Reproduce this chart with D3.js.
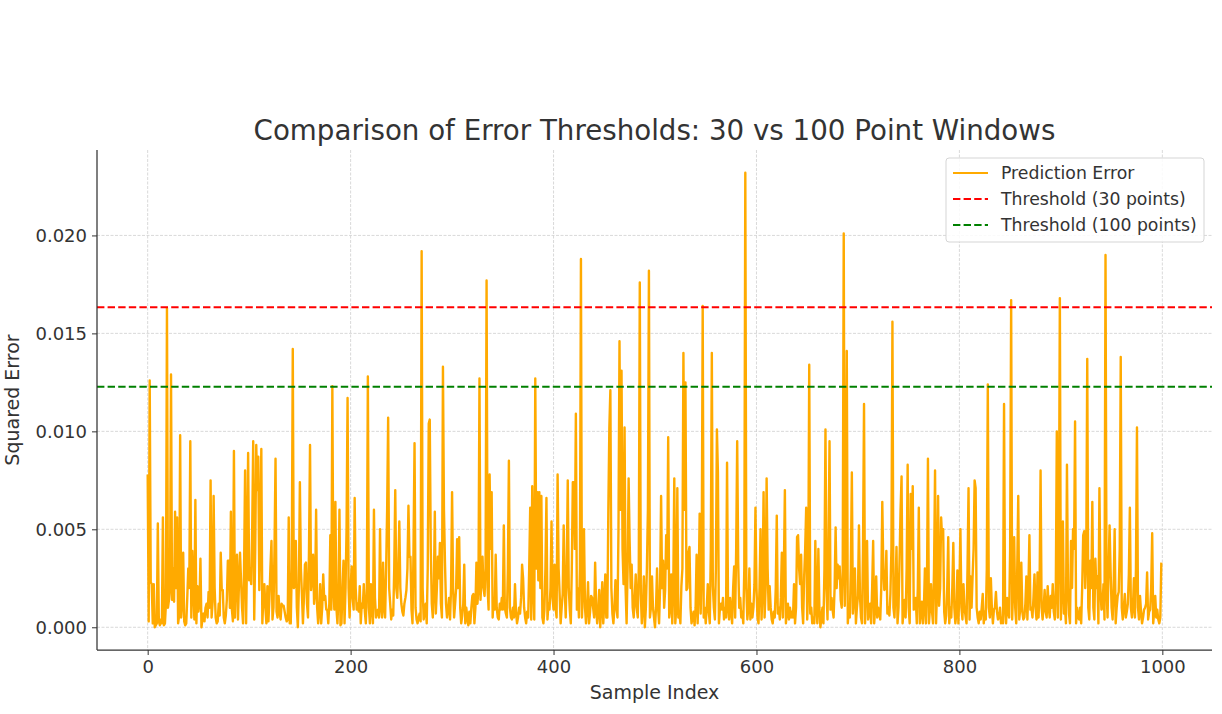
<!DOCTYPE html>
<html><head><meta charset="utf-8">
<script src="https://cdn.jsdelivr.net/npm/d3@7"></script>
<style>body{margin:0;background:#fff} text{font-family:"DejaVu Sans",sans-serif;fill:#333}</style>
</head><body><svg id="c" width="1222" height="714"></svg>
<script>
// squared error per sample, in units of 1e-4
const errorE4 = [
78,3,126,23,22,2,22,0,1,2, 53,3,1,4,2,56,1,2,12,163, 10,14,20,129,14,30,13,59,20,56, 2,6,98,5,12,38,3,1,2,15,
30,20,95,5,39,20,4,65,2,21, 8,12,35,0,4,7,3,10,12,5, 18,10,75,5,13,67,20,5,2,3, 12,6,38,19,19,5,2,6,14,34,
34,10,59,9,3,90,5,29,37,4, 23,38,24,10,2,30,80,2,40,89, 24,30,22,50,95,4,40,93,70,87, 19,50,91,2,15,22,10,2,21,3,
15,31,44,4,10,40,86,8,5,16, 8,4,12,11,11,8,5,3,4,56, 2,2,30,142,20,21,44,10,0,20, 74,30,17,2,15,32,33,12,5,40,
93,19,25,37,12,17,60,10,2,8, 22,2,10,27,14,16,9,9,2,12, 47,9,123,20,9,64,10,2,15,60, 1,2,20,34,2,20,50,117,20,5,
20,31,15,9,66,20,9,12,8,21, 2,12,10,22,8,2,20,128,10,2, 22,10,2,60,15,5,8,9,5,50, 10,5,33,10,5,30,60,107,20,12,
4,9,6,30,70,20,15,30,54,20, 12,8,6,12,15,19,30,62,36,36, 9,2,40,94,10,4,2,5,7,3, 192,20,4,8,12,2,30,104,106,40,
12,5,20,59,7,20,36,25,43,12, 5,133,60,33,12,5,9,15,4,20, 69,20,5,12,20,45,20,46,10,2, 6,12,32,2,10,5,1,8,2,10,
16,17,2,10,33,12,20,127,14,25, 36,20,16,30,177,20,9,78,40,69, 5,15,9,37,10,5,4,12,9,15, 9,52,10,7,5,30,85,10,5,4,
10,5,22,8,2,5,10,7,15,32, 25,10,5,2,8,5,30,61,4,72, 20,4,127,30,69,24,69,20,67,5, 2,9,30,66,4,12,9,20,54,15,
9,32,10,5,78,30,17,2,10,17, 52,20,5,30,75,20,9,2,30,74, 74,40,109,9,20,5,30,188,5,20, 50,10,2,10,23,2,8,16,15,10,
5,33,10,2,8,19,0,10,23,2, 12,27,5,5,60,102,121,20,7,2, 10,24,10,5,50,146,60,131,40,22, 102,20,2,30,76,44,20,32,10,5,
15,27,10,5,30,176,17,2,10,26, 0,10,30,60,182,5,10,26,10,5, 0,10,30,10,2,20,67,20,34,10, 19,47,30,97,5,10,27,2,20,76,
2,10,71,5,8,2,21,30,140,60, 125,19,20,38,41,10,2,5,8,1, 10,37,2,20,58,7,30,164,5,10, 2,10,22,8,2,40,140,21,10,4,
30,101,79,2,10,12,9,15,4,10, 5,84,10,4,15,8,2,20,31,5, 40,95,33,10,15,5,8,2,30,232, 20,4,10,30,4,12,5,10,22,61,
20,5,2,20,50,4,20,69,5,20, 76,30,9,21,10,4,2,8,5,20, 57,7,10,4,15,38,5,30,70,2, 8,12,4,10,5,8,5,22,2,10,
46,47,30,22,37,10,2,26,40,61, 4,20,134,7,10,2,5,2,44,10, 2,40,10,0,5,10,2,30,101,20, 4,40,95,9,15,9,5,20,51,20,
32,25,31,14,10,30,201,11,40,141, 2,10,5,30,79,7,15,30,2,10, 16,52,16,5,2,40,114,2,20,44, 4,8,12,2,20,44,2,10,26,5,
10,7,4,20,64,30,19,20,39,7, 10,6,17,40,156,10,5,20,41,2, 10,34,60,77,2,8,14,5,30,83, 10,2,68,40,72,9,10,15,2,20,
61,2,8,13,2,10,30,2,20,86, 2,10,22,8,2,30,80,2,20,67, 11,20,56,45,50,8,2,6,20,46, 2,10,5,20,43,10,2,7,29,2,
20,50,10,4,22,10,6,2,30,71, 4,26,10,26,40,75,71,10,5,2, 8,4,10,17,2,8,4,30,124,10, 5,25,10,2,9,10,18,8,4,5,
10,2,5,2,114,10,2,15,8,5, 40,167,4,20,46,10,2,30,67,4, 10,33,8,4,5,12,26,4,20,47, 9,10,5,15,27,10,4,28,5,20,
80,10,4,10,19,8,5,21,10,5, 16,10,22,8,4,19,100,5,40,168, 4,20,54,7,10,2,83,20,7,2, 44,20,50,40,105,2,10,5,4,10,
2,20,47,49,20,34,137,10,4,34, 20,64,10,4,35,20,26,2,71,20, 9,10,22,4,190,20,5,30,52,29, 10,4,20,50,2,10,16,18,40,138,
10,4,10,17,5,8,12,27,61,10, 5,10,25,5,30,102,10,4,16,8, 2,5,9,10,12,28,4,8,9,20, 48,2,8,16,5,9,4,2,5,33
];
const errors = errorE4.map(v => v / 1e4);
const sampleIndex = errors.map((_, i) => i);
const threshold30 = 0.01633;
const threshold100 = 0.01228;
const xTickValues = [0, 200, 400, 600, 800, 1000];
const yTickValues = [0, 0.005, 0.010, 0.015, 0.020];
const titleText = "Comparison of Error Thresholds: 30 vs 100 Point Windows";
const xLabel = "Sample Index";
const yLabel = "Squared Error";
const legendLabels = ["Prediction Error", "Threshold (30 points)", "Threshold (100 points)"];
const legendColors = ["#FFAA00", "#FF0000", "#008000"];

const L = 97, R = 1212, T = 150, B = 650;
const svg = d3.select("#c");
const n = errors.length;
const xPad = (n - 1) * 0.05;
const x = d3.scaleLinear().domain([-xPad, n - 1 + xPad]).range([L, R]);
const yMax = d3.max(errors), yMin = 0;
const yPad = (yMax - yMin) * 0.05;
const y = d3.scaleLinear().domain([yMin - yPad, yMax + yPad]).range([B, T]);

// grid
const g = svg.append("g");
g.selectAll(".gx").data(xTickValues).join("line")
  .attr("x1", d => x(d)).attr("x2", d => x(d)).attr("y1", T).attr("y2", B)
  .attr("stroke", "#cfcfcf").attr("stroke-width", 0.8).attr("stroke-dasharray", "3,1.5");
g.selectAll(".gy").data(yTickValues).join("line")
  .attr("x1", L).attr("x2", R).attr("y1", d => y(d)).attr("y2", d => y(d))
  .attr("stroke", "#cfcfcf").attr("stroke-width", 0.8).attr("stroke-dasharray", "3,1.5");

// error line
const line = d3.line().x((d, i) => x(sampleIndex[i])).y(d => y(d));
svg.append("path").datum(errors).attr("d", line)
  .attr("fill", "none").attr("stroke", legendColors[0]).attr("stroke-width", 2.4)
  .attr("stroke-linejoin", "round");

// thresholds
[[threshold30, legendColors[1]], [threshold100, legendColors[2]]].forEach(([v, c]) => {
  svg.append("line").attr("x1", L).attr("x2", R).attr("y1", y(v)).attr("y2", y(v))
    .attr("stroke", c).attr("stroke-width", 2).attr("stroke-dasharray", "7.4,3.2");
});

// axes
const xAxis = svg.append("g").attr("transform", `translate(0,${B})`)
  .call(d3.axisBottom(x).tickValues(xTickValues).tickFormat(d3.format("d")).tickSize(5).tickPadding(5));
const yAxis = svg.append("g").attr("transform", `translate(${L},0)`)
  .call(d3.axisLeft(y).tickValues(yTickValues).tickFormat(d3.format(".3f")).tickSize(5).tickPadding(5));
[xAxis, yAxis].forEach(a => {
  a.select(".domain").attr("stroke", "#333").attr("stroke-width", 1.25);
  a.selectAll(".tick line").attr("stroke", "#333").attr("stroke-width", 1);
  a.selectAll(".tick text").attr("font-size", 18).attr("fill", "#333").style("font-family", "DejaVu Sans");
});
xAxis.select(".domain").attr("d", `M${L},0H${R}`);
yAxis.select(".domain").attr("d", `M0,${T}V${B}`);

// labels
svg.append("text").attr("x", (L + R) / 2).attr("y", 140).attr("text-anchor", "middle")
  .attr("font-size", 27.7).text(titleText);
svg.append("text").attr("x", (L + R) / 2).attr("y", 699).attr("text-anchor", "middle")
  .attr("font-size", 19).text(xLabel);
svg.append("text").attr("transform", `translate(19,${(T + B) / 2}) rotate(-90)`).attr("text-anchor", "middle")
  .attr("font-size", 19).text(yLabel);

// legend
const lg = svg.append("g");
lg.append("rect").attr("x", 946).attr("y", 158).attr("width", 258).attr("height", 84).attr("rx", 3)
  .attr("fill", "white").attr("fill-opacity", 0.85).attr("stroke", "#d5d5d5");
legendLabels.forEach((lab, i) => {
  const yy = 173 + i * 26;
  lg.append("line").attr("x1", 953).attr("x2", 988).attr("y1", yy).attr("y2", yy)
    .attr("stroke", legendColors[i]).attr("stroke-width", 2)
    .attr("stroke-dasharray", i === 0 ? null : "7.4,3.2");
  lg.append("text").attr("x", 1001).attr("y", yy).attr("dy", "0.35em").attr("font-size", 17.3).text(lab);
});
</script></body></html>
